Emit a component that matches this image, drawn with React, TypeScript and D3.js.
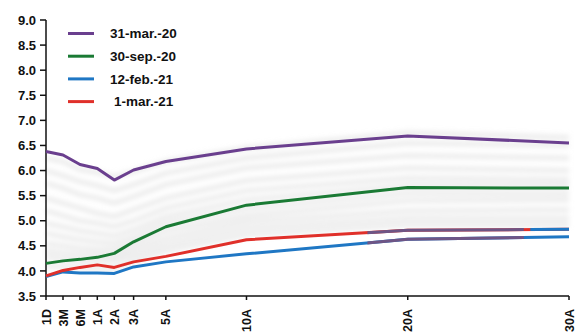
import React from "react";
import * as d3 from "d3";

const W = 581;
const H = 333;

const categories = ["1D", "3M", "6M", "1A", "2A", "3A", "5A", "10A", "20A", "30A"];
const maturities = [0, 0.25, 0.5, 1, 2, 3, 5, 10, 20, 30];

const seriesNames = ["31-mar.-20", "30-sep.-20", "12-feb.-21", "1-mar.-21"];
const seriesColors = ["#6a3f8e", "#1a7a34", "#1f77c4", "#e0302a"];
const mar20 = [6.38, 6.31, 6.12, 6.04, 5.81, 6.01, 6.18, 6.43, 6.69, 6.55];
const sep20 = [4.15, 4.2, 4.23, 4.27, 4.35, 4.58, 4.88, 5.31, 5.66, 5.65];
const feb21 = [3.89, 3.98, 3.96, 3.96, 3.95, 4.08, 4.18, 4.34, 4.63, 4.68];
const mar21 = [3.9, 4.01, 4.07, 4.12, 4.07, 4.18, 4.29, 4.62, 4.81, 4.83];
const seriesValues = [mar20, sep20, feb21, mar21];

// faint historical curves in the background
const history = [
  [6.25, 6.18, 6.02, 5.96, 5.88, 5.98, 6.18, 6.45, 6.75, 6.66],
  [6.0, 5.9, 5.78, 5.7, 5.6, 5.72, 5.95, 6.25, 6.55, 6.5],
  [5.75, 5.65, 5.52, 5.45, 5.35, 5.48, 5.72, 6.05, 6.3, 6.25],
  [5.45, 5.35, 5.25, 5.15, 5.08, 5.22, 5.45, 5.8, 6.05, 6.0],
  [5.2, 5.1, 5.0, 4.95, 4.88, 5.0, 5.25, 5.6, 5.85, 5.82],
  [4.95, 4.88, 4.8, 4.75, 4.7, 4.82, 5.08, 5.42, 5.7, 5.7],
  [4.75, 4.68, 4.62, 4.58, 4.55, 4.68, 4.95, 5.25, 5.55, 5.55],
  [4.55, 4.5, 4.45, 4.43, 4.42, 4.56, 4.8, 5.1, 5.4, 5.42],
  [4.4, 4.35, 4.32, 4.32, 4.3, 4.44, 4.65, 4.98, 5.2, 5.22],
  [4.28, 4.22, 4.2, 4.2, 4.2, 4.32, 4.52, 4.85, 5.05, 5.05],
  [4.1, 4.08, 4.06, 4.05, 4.05, 4.2, 4.4, 4.72, 4.92, 4.92],
];

// colored overlay segments seen on the long end of the recent curves
const overlaySeries = [3, 3, 2];
const overlayColors = ["#6e5585", "#1f77c4", "#6e5585"];
const overlayFrom = [17.5, 27.6, 17.5];
const overlayTo = [27.2, 30.5, 27.2];

const yTicks = [3.5, 4.0, 4.5, 5.0, 5.5, 6.0, 6.5, 7.0, 7.5, 8.0, 8.5, 9.0];

export default function App() {
  const x = d3
    .scaleLinear()
    .domain([0, 0.25, 0.5, 1, 2, 3, 30])
    .range([46, 63, 80, 97.3, 114.3, 133.6, 569]);
  const y = d3.scaleLinear().domain([3.5, 9.0]).range([296, 20]);

  const line = d3
    .line<number>()
    .x((_, i) => x(maturities[i]))
    .y((v) => y(v));

  const font = "'Liberation Sans', Arial, sans-serif";

  return (
    <div style={{ position: "absolute", left: 0, top: 0 }}>
      <svg width={W} height={H} style={{ display: "block", background: "#fff" }}>
        <defs>
          {overlaySeries.map((_, k) => (
            <clipPath id={`ov${k}`} key={k}>
              <rect
                x={x(overlayFrom[k])}
                y={0}
                width={x(Math.min(overlayTo[k], 30)) - x(overlayFrom[k]) + (overlayTo[k] > 30 ? 4 : 0)}
                height={H}
              />
            </clipPath>
          ))}
          <filter id="blur1" x="-5%" y="-20%" width="110%" height="140%">
            <feGaussianBlur stdDeviation="2.6" />
          </filter>
        </defs>

        {/* background history */}
        <g filter="url(#blur1)">
          {history.map((h, i) => (
            <path
              key={i}
              d={line(h) || ""}
              fill="none"
              stroke="#d4d4d4"
              strokeWidth={5}
              strokeOpacity={0.45}
            />
          ))}
        </g>

        {/* axes */}
        <line x1={46} x2={46} y1={y(9.0)} y2={y(3.5)} stroke="#111" strokeWidth={1.5} />
        {yTicks.map((t) => (
          <g key={t}>
            <line x1={40} x2={46} y1={y(t)} y2={y(t)} stroke="#111" strokeWidth={1.5} />
            <text
              x={36}
              y={y(t)}
              dy="0.36em"
              textAnchor="end"
              fontFamily={font}
              fontWeight="bold"
              fontSize={13}
              fill="#111"
            >
              {t.toFixed(1)}
            </text>
          </g>
        ))}
        <line x1={46} x2={x(30)} y1={y(3.5)} y2={y(3.5)} stroke="#111" strokeWidth={1.5} />
        {categories.map((c, i) => {
          const px = x(maturities[i]);
          return (
            <g key={c}>
              <line x1={px} x2={px} y1={296} y2={300} stroke="#111" strokeWidth={1.5} />
              <text
                transform={`translate(${px + 4.5},${309}) rotate(-90)`}
                textAnchor="end"
                fontFamily={font}
                fontWeight="bold"
                fontSize={12.5}
                fill="#111"
              >
                {c}
              </text>
            </g>
          );
        })}

        {/* main series */}
        {seriesValues.map((vals, i) => (
          <path
            key={seriesNames[i]}
            d={line(vals) || ""}
            fill="none"
            stroke={seriesColors[i]}
            strokeWidth={3}
            strokeLinejoin="round"
          />
        ))}

        {/* overlays */}
        {overlaySeries.map((s, k) => (
          <path
            key={`o${k}`}
            d={line(seriesValues[s]) || ""}
            fill="none"
            stroke={overlayColors[k]}
            strokeWidth={3}
            clipPath={`url(#ov${k})`}
          />
        ))}

        {/* legend */}
        {seriesNames.map((n, i) => {
          const ly = 33.5 + i * 22.7;
          return (
            <g key={n}>
              <line x1={68} x2={94} y1={ly} y2={ly} stroke={seriesColors[i]} strokeWidth={3} />
              <text
                x={n.startsWith("1-") ? 114 : 110}
                y={ly}
                dy="0.36em"
                fontFamily={font}
                fontWeight="bold"
                fontSize={13.5}
                fill="#111"
              >
                {n}
              </text>
            </g>
          );
        })}
      </svg>
    </div>
  );
}
